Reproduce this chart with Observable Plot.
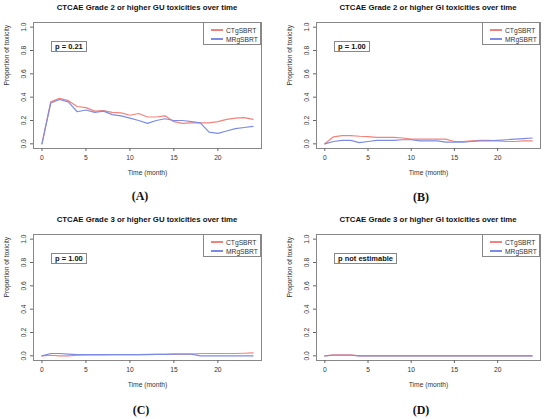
<!DOCTYPE html>
<html>
<head>
<meta charset="utf-8">
<script src="https://cdn.jsdelivr.net/npm/d3@7"></script>
<script src="https://cdn.jsdelivr.net/npm/@observablehq/plot@0.6"></script>
<style>
  body { margin: 0; background: #fff; }
  #wrap { position: relative; width: 550px; height: 419px; font-family: "Liberation Sans", Arial, sans-serif; color: #222; }
  .panel { position: absolute; width: 275px; height: 185px; }
  .title { position: absolute; font-weight: bold; font-size: 7.8px; white-space: nowrap; transform: translate(-50%, -50%); color: #111; }
  .letter { position: absolute; font-family: "Liberation Serif", "Times New Roman", serif; font-weight: bold; font-size: 12px; transform: translate(-50%, -50%); color: #111; }
  .legend { position: absolute; border: 1px solid #888; background: #fff; box-sizing: border-box; font-size: 6.7px; color: #333; }
  .legend .swatch { position: absolute; width: 12px; height: 1.2px; }
  .legend .lab { position: absolute; transform: translateY(-50%); white-space: nowrap; }
  .pbox { position: absolute; border: 1px solid #888; background: #fff; box-sizing: border-box; font-size: 7.5px; font-weight: bold; color: #111; display: flex; align-items: center; justify-content: center; white-space: nowrap; }
</style>
</head>
<body>
<div id="wrap"></div>
<script>
// ---- data ----
const months = [0,1,2,3,4,5,6,7,8,9,10,11,12,13,14,15,16,17,18,19,20,21,22,23,24];
const groups = ["CTgSBRT", "MRgSBRT"];
const colors = ["#f2837b", "#7c8ce6"];
const yTicks = [0, 0.2, 0.4, 0.6, 0.8, 1.0];
const xTicks = [0, 5, 10, 15, 20];

const gu2_ct = [0,0.36,0.39,0.37,0.32,0.31,0.28,0.285,0.27,0.265,0.245,0.26,0.23,0.23,0.24,0.19,0.175,0.18,0.18,0.18,0.19,0.21,0.22,0.225,0.21];
const gu2_mr = [0,0.35,0.38,0.36,0.275,0.29,0.27,0.28,0.25,0.24,0.22,0.20,0.175,0.20,0.215,0.20,0.20,0.19,0.18,0.10,0.09,0.11,0.13,0.14,0.15];
const gi2_ct = [0,0.06,0.07,0.07,0.065,0.062,0.055,0.055,0.055,0.05,0.04,0.04,0.04,0.04,0.04,0.02,0.02,0.025,0.03,0.03,0.025,0.02,0.02,0.025,0.025];
const gi2_mr = [0,0.02,0.03,0.03,0.01,0.02,0.03,0.03,0.03,0.035,0.035,0.025,0.025,0.025,0.015,0.015,0.015,0.02,0.025,0.025,0.03,0.035,0.04,0.045,0.05];
const gu3_ct = [0,0.005,0,0,0.005,0.008,0.008,0.008,0.01,0.01,0.01,0.01,0.012,0.012,0.013,0.014,0.015,0.015,0.02,0.02,0.02,0.02,0.02,0.022,0.025];
const gu3_mr = [0,0.02,0.02,0.015,0.01,0.01,0.01,0.01,0.01,0.01,0.01,0.01,0.01,0.012,0.013,0.015,0.015,0.015,0,0,0,0,0,0,0];
const gi3_ct = [0,0.008,0.008,0.008,0,0,0,0,0,0,0,0,0,0,0,0,0,0,0,0,0,0,0,0,0];
const gi3_mr = [0,0.005,0.005,0.005,0,0,0,0,0,0,0,0,0,0,0,0,0,0,0,0,0,0,0,0,0];

const panels = [
  {title: "CTCAE Grade 2 or higher GU toxicities over time", p: "p = 0.21", ct: gu2_ct, mr: gu2_mr, left: 0, top: 0, mL: 33, mR: 14, letter: "(A)", lx: 140, ly: 196},
  {title: "CTCAE Grade 2 or higher GI toxicities over time", p: "p = 1.00", ct: gi2_ct, mr: gi2_mr, left: 275, top: 0, mL: 41, mR: 10, letter: "(B)", lx: 421, ly: 197},
  {title: "CTCAE Grade 3 or higher GU toxicities over time", p: "p = 1.00", ct: gu3_ct, mr: gu3_mr, left: 0, top: 212, mL: 33, mR: 14, letter: "(C)", lx: 141, ly: 410},
  {title: "CTCAE Grade 3 or higher GI toxicities over time", p: "p not estimable", ct: gi3_ct, mr: gi3_mr, left: 275, top: 212, mL: 41, mR: 10, letter: "(D)", lx: 421, ly: 410}
];

const wrap = document.getElementById("wrap");
const W = 275, H = 185, mT = 22, mB = 37;

for (const pn of panels) {
  const rows = [];
  months.forEach((t, i) => rows.push({t, v: pn.ct[i], g: groups[0]}));
  months.forEach((t, i) => rows.push({t, v: pn.mr[i], g: groups[1]}));

  const chart = Plot.plot({
    width: W, height: H,
    marginTop: mT, marginBottom: mB, marginLeft: pn.mL, marginRight: pn.mR,
    style: {fontFamily: "Liberation Sans, Arial, sans-serif", fontSize: "6.7px", color: "#333", background: "transparent", overflow: "visible"},
    x: {domain: [-0.96, 24.96]},
    y: {domain: [-0.04, 1.04]},
    color: {domain: groups, range: colors},
    marks: [
      Plot.frame({stroke: "#888", strokeWidth: 1}),
      Plot.axisX({ticks: xTicks, tickSize: 3, tickPadding: 4, label: null, stroke: "#666"}),
      Plot.axisY({ticks: yTicks, tickFormat: d3.format(".1f"), tickSize: 3, tickPadding: 5, tickRotate: -90, label: null, stroke: "#666"}),
      Plot.line(rows, {x: "t", y: "v", z: "g", stroke: "g", strokeWidth: 1.2}),
      Plot.text(["Time (month)"], {text: d => d, frameAnchor: "bottom", dy: 26, fill: "#333"}),
      Plot.text(["Proportion of toxicity"], {text: d => d, frameAnchor: "left", rotate: -90, dx: -27, fill: "#333"})
    ]
  });

  const div = document.createElement("div");
  div.className = "panel";
  div.style.left = pn.left + "px";
  div.style.top = pn.top + "px";
  div.appendChild(chart);
  wrap.appendChild(div);

  const boxL = pn.left + pn.mL, boxR = pn.left + W - pn.mR, boxT = pn.top + mT;

  const t = document.createElement("div");
  t.className = "title";
  t.textContent = pn.title;
  t.style.left = ((boxL + boxR) / 2) + "px";
  t.style.top = (pn.top + 7) + "px";
  wrap.appendChild(t);

  const lg = document.createElement("div");
  lg.className = "legend";
  lg.style.left = (boxR - 58) + "px";
  lg.style.top = boxT + "px";
  lg.style.width = "58px";
  lg.style.height = "23px";
  groups.forEach((g, i) => {
    const y = 7 + i * 9;
    const sw = document.createElement("div");
    sw.className = "swatch";
    sw.style.background = colors[i];
    sw.style.left = "7px";
    sw.style.top = (y - 0.6) + "px";
    const lab = document.createElement("div");
    lab.className = "lab";
    lab.textContent = g;
    lab.style.left = "22px";
    lab.style.top = y + "px";
    lg.appendChild(sw);
    lg.appendChild(lab);
  });
  wrap.appendChild(lg);

  const pb = document.createElement("div");
  pb.className = "pbox";
  pb.textContent = pn.p;
  pb.style.left = (boxL + 18) + "px";
  pb.style.top = (boxT + 19) + "px";
  pb.style.padding = "0 3px";
  pb.style.height = "11px";
  wrap.appendChild(pb);

  const L = document.createElement("div");
  L.className = "letter";
  L.textContent = pn.letter;
  L.style.left = pn.lx + "px";
  L.style.top = pn.ly + "px";
  wrap.appendChild(L);
}
</script>
</body>
</html>
